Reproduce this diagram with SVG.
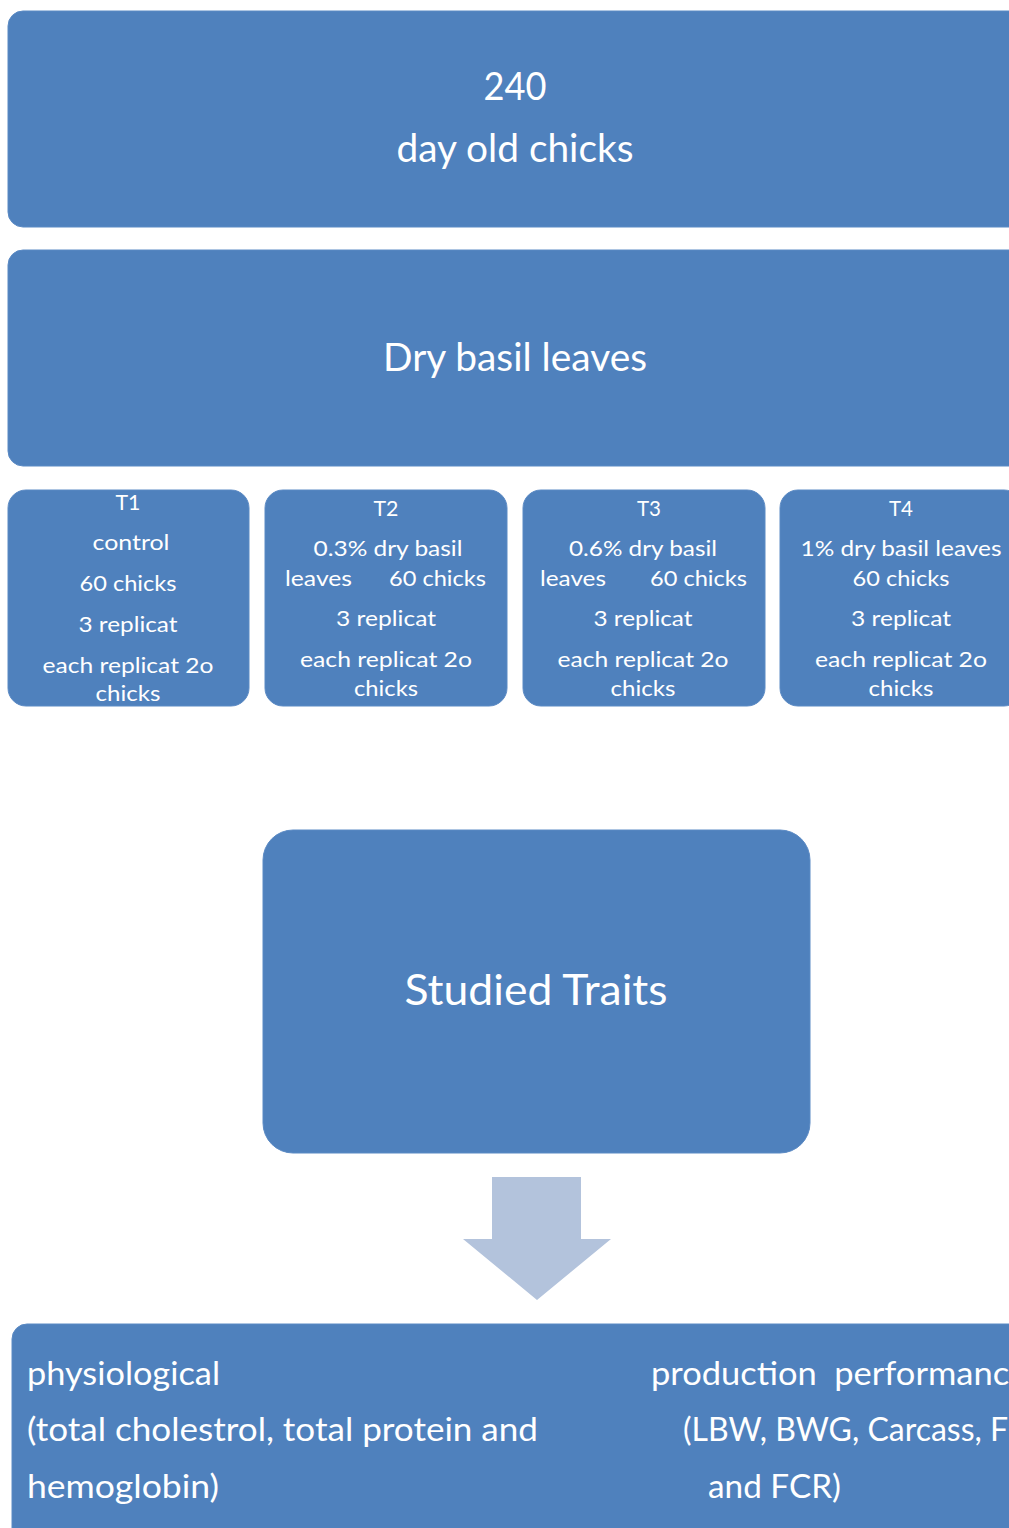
<svg xmlns="http://www.w3.org/2000/svg" width="1009" height="1528" viewBox="0 0 1009 1528">
<style>
.box{fill:#4F81BD;stroke:#5B8AC4;stroke-width:1}
text{font-family:Lato,"Open Sans","Liberation Sans",sans-serif;fill:#ffffff}
.c{text-anchor:middle}
.big{font-size:39px}
.t{font-size:21px}
.b{font-size:32px}
</style>
<g id="node-chicks">
<rect class="box" x="8" y="11" width="1040" height="216" rx="15"/>
<text class="c big" x="515" y="100" textLength="63" lengthAdjust="spacingAndGlyphs">240</text>
<text class="c big" x="515" y="162" textLength="237" lengthAdjust="spacingAndGlyphs">day old chicks</text>
</g>
<g id="node-basil">
<rect class="box" x="8" y="250" width="1040" height="216" rx="15"/>
<text class="c big" x="515" y="371" textLength="264" lengthAdjust="spacingAndGlyphs">Dry basil leaves</text>
</g>
<g id="node-t1">
<rect class="box" x="8" y="490" width="241" height="216" rx="18"/>
<text class="c t" x="128" y="510" textLength="25" lengthAdjust="spacingAndGlyphs">T1</text>
<text class="c t" x="131" y="550" textLength="77" lengthAdjust="spacingAndGlyphs">control</text>
<text class="c t" x="128" y="591" textLength="97" lengthAdjust="spacingAndGlyphs">60 chicks</text>
<text class="c t" x="128" y="632" textLength="99" lengthAdjust="spacingAndGlyphs">3 replicat</text>
<text class="c t" x="128" y="673" textLength="171" lengthAdjust="spacingAndGlyphs">each replicat 2o</text>
<text class="c t" x="128" y="701" textLength="65" lengthAdjust="spacingAndGlyphs">chicks</text>
</g>
<g id="node-t2">
<rect class="box" x="265" y="490" width="242" height="216" rx="18"/>
<text class="c t" x="386" y="516" textLength="25" lengthAdjust="spacingAndGlyphs">T2</text>
<text class="c t" x="388" y="556" textLength="149" lengthAdjust="spacingAndGlyphs">0.3% dry basil</text>
<text class="t" x="285" y="586" textLength="67" lengthAdjust="spacingAndGlyphs">leaves</text>
<text class="t" x="389" y="586" textLength="97" lengthAdjust="spacingAndGlyphs">60 chicks</text>
<text class="c t" x="386" y="626" textLength="100" lengthAdjust="spacingAndGlyphs">3 replicat</text>
<text class="c t" x="386" y="667" textLength="172" lengthAdjust="spacingAndGlyphs">each replicat 2o</text>
<text class="c t" x="386" y="696" textLength="64" lengthAdjust="spacingAndGlyphs">chicks</text>
</g>
<g id="node-t3">
<rect class="box" x="523" y="490" width="242" height="216" rx="18"/>
<text class="c t" x="649" y="516" textLength="24" lengthAdjust="spacingAndGlyphs">T3</text>
<text class="c t" x="643" y="556" textLength="148" lengthAdjust="spacingAndGlyphs">0.6% dry basil</text>
<text class="t" x="540" y="586" textLength="66" lengthAdjust="spacingAndGlyphs">leaves</text>
<text class="t" x="650" y="586" textLength="97" lengthAdjust="spacingAndGlyphs">60 chicks</text>
<text class="c t" x="643" y="626" textLength="99" lengthAdjust="spacingAndGlyphs">3 replicat</text>
<text class="c t" x="643" y="667" textLength="171" lengthAdjust="spacingAndGlyphs">each replicat 2o</text>
<text class="c t" x="643" y="696" textLength="65" lengthAdjust="spacingAndGlyphs">chicks</text>
</g>
<g id="node-t4">
<rect class="box" x="780" y="490" width="242" height="216" rx="18"/>
<text class="c t" x="901" y="516" textLength="24" lengthAdjust="spacingAndGlyphs">T4</text>
<text class="c t" x="901" y="556" textLength="201" lengthAdjust="spacingAndGlyphs">1% dry basil leaves</text>
<text class="c t" x="901" y="586" textLength="97" lengthAdjust="spacingAndGlyphs">60 chicks</text>
<text class="c t" x="901" y="626" textLength="100" lengthAdjust="spacingAndGlyphs">3 replicat</text>
<text class="c t" x="901" y="667" textLength="172" lengthAdjust="spacingAndGlyphs">each replicat 2o</text>
<text class="c t" x="901" y="696" textLength="65" lengthAdjust="spacingAndGlyphs">chicks</text>
</g>
<g id="node-traits">
<rect class="box" x="263" y="830" width="547" height="323" rx="30"/>
<text class="c" x="536" y="1005" font-size="42" textLength="263" lengthAdjust="spacingAndGlyphs">Studied Traits</text>
</g>
<g id="connectors">
<polygon points="492,1177 581,1177 581,1239 611,1239 537,1300 463,1239 492,1239" fill="#B3C3DC"/>
</g>
<g id="node-results">
<rect class="box" x="12" y="1324" width="1040" height="240" rx="15"/>
<text class="b" x="27" y="1385" textLength="193" lengthAdjust="spacingAndGlyphs">physiological</text>
<text class="b" x="27" y="1441" textLength="511" lengthAdjust="spacingAndGlyphs">(total cholestrol, total protein and</text>
<text class="b" x="27" y="1498" textLength="192" lengthAdjust="spacingAndGlyphs">hemoglobin)</text>
<text class="b" x="651" y="1385" xml:space="preserve" textLength="376" lengthAdjust="spacingAndGlyphs">production  performance</text>
<text class="b" x="683" y="1441">(LBW, BWG, Carcass, FI</text>
<text class="b" x="708" y="1498" textLength="133" lengthAdjust="spacingAndGlyphs">and FCR)</text>
</g>
</svg>
